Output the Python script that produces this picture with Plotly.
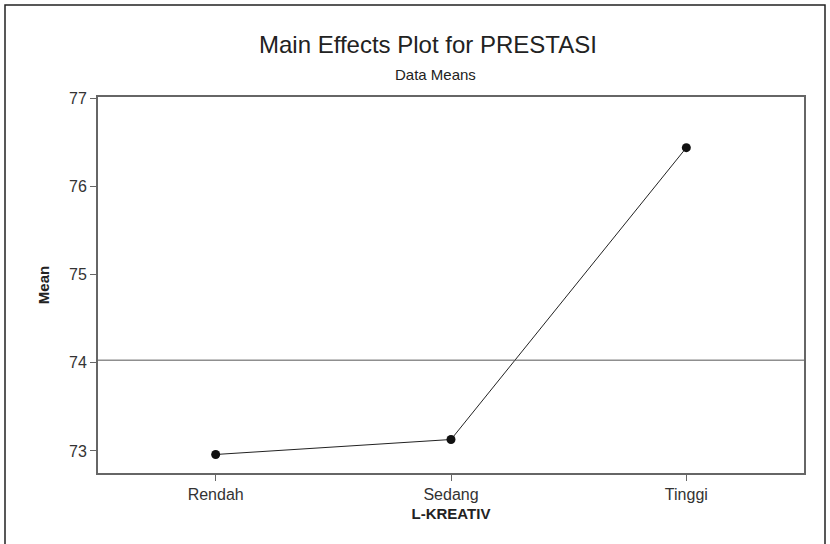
import plotly.graph_objects as go

categories = ["Rendah", "Sedang", "Tinggi"]
means = [72.96, 73.13, 76.44]
overall_mean = 74.03
y_ticks = [73, 74, 75, 76, 77]

W, H = 830, 544
L, R, T, B = 98, 26, 97, 71
pw, ph = W - L - R, H - T - B


def px_x(p):
    return (p - L) / pw


def px_y(p):
    return 1 - (p - T) / ph


fig = go.Figure()
fig.add_trace(go.Scatter(
    x=list(range(len(categories))), y=means, mode="lines+markers",
    line=dict(color="#222222", width=1),
    marker=dict(color="#111111", size=9, symbol="circle"),
    hoverinfo="skip", showlegend=False,
))

fig.add_shape(type="line", xref="x domain", yref="y", x0=0, x1=1,
              y0=overall_mean, y1=overall_mean,
              line=dict(color="#555555", width=1))

# outer frame around the whole figure (bottom edge falls outside the image)
fig.add_shape(type="rect", xref="paper", yref="paper",
              x0=px_x(5), x1=px_x(825), y0=px_y(560), y1=px_y(5),
              line=dict(color="#222222", width=1.5), layer="below")

font_family = "Liberation Sans, Arial, sans-serif"

fig.add_annotation(text="Main Effects Plot for PRESTASI", xref="paper", yref="paper",
                   x=px_x(428), y=px_y(45), xanchor="center", yanchor="middle",
                   showarrow=False, font=dict(size=24, color="#222222"))
fig.add_annotation(text="Data Means", xref="paper", yref="paper",
                   x=px_x(435), y=px_y(75), xanchor="center", yanchor="middle",
                   showarrow=False, font=dict(size=15, color="#222222"))

fig.update_layout(
    width=W, height=H,
    margin=dict(l=L, r=R, t=T, b=B),
    paper_bgcolor="white", plot_bgcolor="white",
    font=dict(family=font_family, color="#333333", size=15),
    xaxis=dict(
        tickmode="array", tickvals=list(range(len(categories))), ticktext=categories,
        range=[-0.5, 2.5], showgrid=False, zeroline=False,
        showline=True, mirror=True, linecolor="#666666", linewidth=2,
        ticks="outside", ticklen=6, tickcolor="#666666", tickwidth=1,
        tickfont=dict(size=16, color="#333333"),
        title=dict(text="<b>L-KREATIV</b>", font=dict(size=15, color="#222222"), standoff=6),
    ),
    yaxis=dict(
        tickmode="array", tickvals=y_ticks, ticktext=[str(v) for v in y_ticks],
        range=[72.75, 77.015], showgrid=False, zeroline=False,
        showline=True, mirror=True, linecolor="#666666", linewidth=2,
        ticks="outside", ticklen=6, tickcolor="#666666", tickwidth=1,
        tickfont=dict(size=16, color="#333333"),
        title=dict(text="<b>Mean</b>", font=dict(size=15, color="#222222"), standoff=16),
    ),
)

fig.write_html("out.html", config={"displayModeBar": False},
               post_script="document.body.style.margin='0';")
